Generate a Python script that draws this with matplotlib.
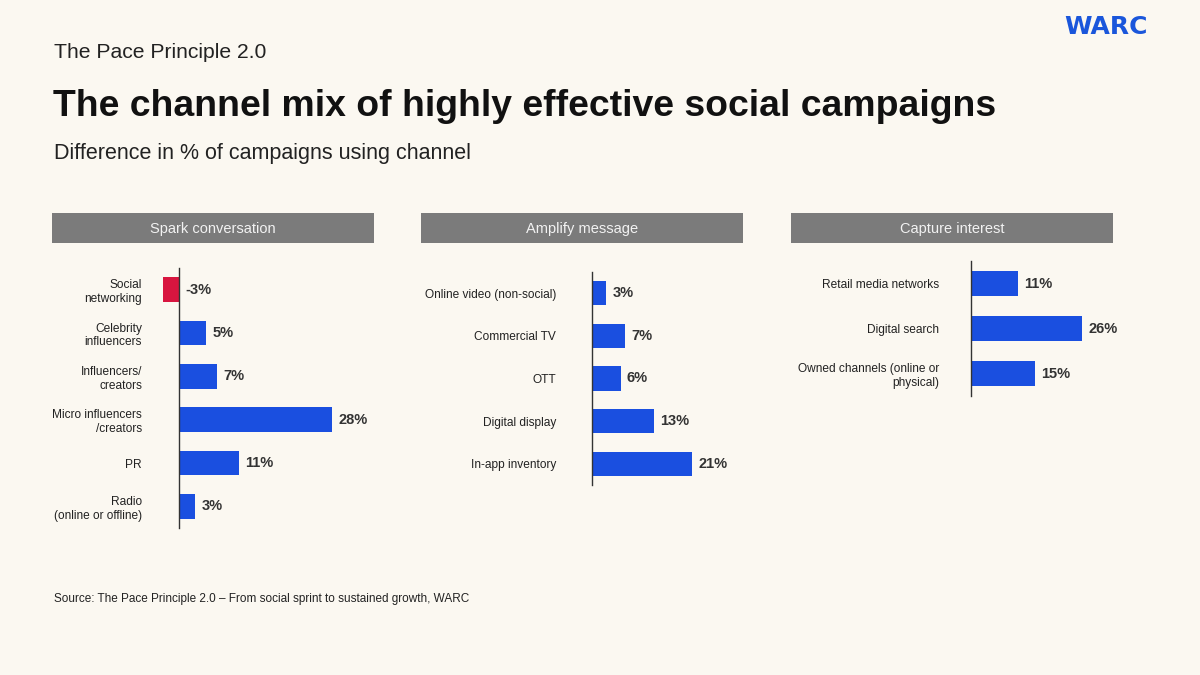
import matplotlib
matplotlib.use("Agg")
import matplotlib.pyplot as plt
from matplotlib.patches import Rectangle

BG = "#FBF8F1"
BLUE = "#1A4FE0"
RED = "#D8153F"
HEADER_GREY = "#7B7B7B"
TEXT = "#222222"

# Spark conversation
spark_labels = ["Social\nnetworking", "Celebrity\ninfluencers", "Influencers/\ncreators",
                "Micro influencers\n/creators", "PR", "Radio\n(online or offline)"]
spark_values = [-3, 5, 7, 28, 11, 3]

# Amplify message
amplify_labels = ["Online video (non-social)", "Commercial TV", "OTT",
                  "Digital display", "In-app inventory"]
amplify_values = [3, 7, 6, 13, 21]

# Capture interest
capture_labels = ["Retail media networks", "Digital search",
                  "Owned channels (online or\nphysical)"]
capture_values = [11, 26, 15]

W, H = 1200, 675
fig = plt.figure(figsize=(12, 6.75), dpi=100, facecolor=BG)
plt.rcParams["font.family"] = ["Liberation Sans", "DejaVu Sans"]


def fx(x):
    return x / W


def fy(y):
    return 1 - y / H


# header texts
fig.text(fx(54), fy(53), "The Pace Principle 2.0", fontsize=15.2, color=TEXT, va="center")
fig.text(fx(53), fy(106), "The channel mix of highly effective social campaigns",
         fontsize=26.9, fontweight="bold", color="#111111", va="center")
fig.text(fx(54), fy(154), "Difference in % of campaigns using channel", fontsize=15.5,
         color=TEXT, va="center")
fig.text(fx(1148), fy(27), "WARC", fontsize=18, fontweight="bold", color="#1A56DB",
         ha="right", va="center", family=["DejaVu Sans"])
fig.text(fx(54), fy(599),
         "Source: The Pace Principle 2.0 \u2013 From social sprint to sustained growth, WARC",
         fontsize=8.5, color=TEXT, va="center")

panels = [
    # title, labels, values, box left, zero x, px per %, axis top, axis bottom, label gap
    ("Spark conversation", spark_labels, spark_values, 52, 179, 5.46, 268, 528, 37),
    ("Amplify message", amplify_labels, amplify_values, 421, 592, 4.76, 272, 485, 36),
    ("Capture interest", capture_labels, capture_values, 791, 971, 4.27, 261, 396, 32),
]
BOX_W = 322

for title, labels, values, left, zero, scale, top, bottom, gap in panels:
    # grey header box
    fig.patches.append(Rectangle((fx(left), fy(243)), BOX_W / W, 30 / H,
                                 transform=fig.transFigure, facecolor=HEADER_GREY,
                                 edgecolor="none"))
    fig.text(fx(left + BOX_W / 2), fy(229), title, fontsize=10.5, color="#F2F2F2",
             ha="center", va="center")

    ax = fig.add_axes([fx(left), fy(bottom), BOX_W / W, (bottom - top) / H])
    ax.set_facecolor("none")
    n = len(values)
    pos = list(range(n))
    colors = [RED if v < 0 else BLUE for v in values]
    ax.barh(pos, values, height=0.57, color=colors)
    ax.set_xlim((left - zero) / scale, (left + BOX_W - zero) / scale)
    ax.set_ylim(n - 0.5, -0.5)

    for s in ["top", "right", "bottom"]:
        ax.spines[s].set_visible(False)
    ax.spines["left"].set_position(("data", 0))
    ax.spines["left"].set_color("#333333")
    ax.spines["left"].set_linewidth(1.0)
    ax.set_xticks([])
    ax.set_yticks(pos)
    ax.set_yticklabels(labels, fontsize=8.6, color=TEXT)
    ax.tick_params(axis="y", length=0, pad=gap * 0.72)

    for p, v in zip(pos, values):
        ax.annotate(f"{v}%", xy=(max(v, 0), p), xytext=(4.5, 0), textcoords="offset points",
                    ha="left", va="center", fontsize=10.5, fontweight="bold", color="#333333")

fig.savefig("out.png", dpi=100, facecolor=BG)
